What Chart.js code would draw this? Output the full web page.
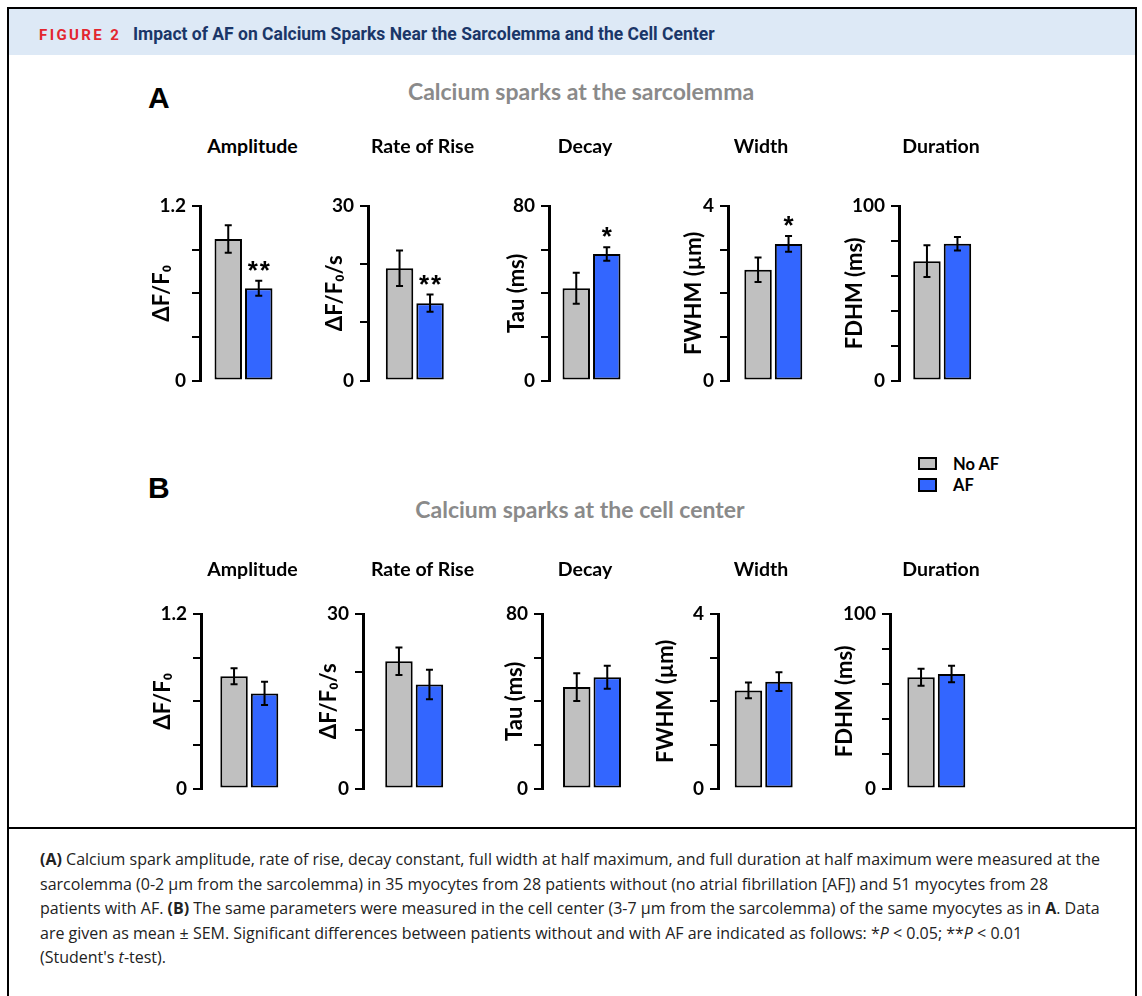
<!DOCTYPE html>
<html>
<head>
<meta charset="utf-8">
<script src="https://cdn.jsdelivr.net/npm/chart.js@4.4.1/dist/chart.umd.min.js"></script>
<style>
  body { margin: 0; width: 1142px; height: 996px; background: #fff; position: relative; overflow: hidden; font-family: Lato, sans-serif; }
  .frame { position: absolute; left: 7px; top: 7px; width: 1126px; height: 1000px; border: 2px solid #000; border-bottom: none; }
  .band { position: absolute; left: 9px; top: 9px; width: 1126px; height: 46px; background: #dde9f6; }
  .sep { position: absolute; left: 7px; top: 827px; width: 1130px; height: 2px; background: #000; }
  .lbl { position: absolute; white-space: nowrap; line-height: 1; }
  .fig { left: 39px; top: 26px; font: 700 15px Roboto, sans-serif; letter-spacing: 2.4px; color: #e3262f; }
  .figtitle { left: 133px; top: 24px; font: 700 17.5px Roboto, sans-serif; color: #1a3668; }
  .panel { font: 700 30px "Liberation Sans", Arial, sans-serif; color: #000; }
  .heading { font: 700 23px Lato, sans-serif; color: #8a8a8a; transform: translateX(-50%); }
  .ctitle { font: 700 19.5px Lato, sans-serif; color: #000; transform: translateX(-50%); }
  .legtext { font: 700 16.5px Lato, sans-serif; color: #000; }
  .swatch { position: absolute; box-sizing: border-box; border: 2px solid #000; width: 19px; }
  .caption { position: absolute; left: 40px; top: 847px; font: 400 16px "Open Sans", sans-serif; line-height: 24.5px; color: #222; white-space: nowrap; }
  canvas { position: absolute; }
</style>
</head>
<body>
<div class="band"></div>
<div class="frame"></div>
<div class="sep"></div>

<div class="lbl fig">FIGURE 2</div>
<div class="lbl figtitle">Impact of AF on Calcium Sparks Near the Sarcolemma and the Cell Center</div>

<div class="lbl panel" style="left:148px; top:81px;">A</div>
<div class="lbl heading" style="left:581px; top:77px;">Calcium sparks at the sarcolemma</div>
<div class="lbl panel" style="left:148px; top:471px;">B</div>
<div class="lbl heading" style="left:580px; top:495px;">Calcium sparks at the cell center</div>

<div class="swatch" style="left:918px; top:457px; height:13px; background:#c0c0c0;"></div>
<div class="swatch" style="left:918px; top:478px; height:14px; background:#3366ff;"></div>
<div class="lbl legtext" style="left:953px; top:454px;">No AF</div>
<div class="lbl legtext" style="left:953px; top:475px;">AF</div>

<div id="charts"></div>

<div class="caption">
<b>(A)</b> Calcium spark amplitude, rate of rise, decay constant, full width at half maximum, and full duration at half maximum were measured at the<br>
sarcolemma (0-2 μm from the sarcolemma) in 35 myocytes from 28 patients without (no atrial fibrillation [AF]) and 51 myocytes from 28<br>
patients with AF. <b>(B)</b> The same parameters were measured in the cell center (3-7 μm from the sarcolemma) of the same myocytes as in <b>A</b>. Data<br>
are given as mean ± SEM. Significant differences between patients without and with AF are indicated as follows: *<i>P</i> &lt; 0.05; **<i>P</i> &lt; 0.01<br>
(Student's <i>t</i>-test).
</div>

<script>
// groups and measured parameters
const groups = ['No AF', 'AF'];
const params = ['Amplitude', 'Rate of Rise', 'Decay', 'Width', 'Duration'];
const yTitles = ['ΔF/F₀', 'ΔF/F₀/s', 'Tau (ms)', 'FWHM (µm)', 'FDHM (ms)'];
const yMax = [1.2, 30, 80, 4, 100];
const yStep = [0.3, 10, 20, 1, 20];

// A: sparks at the sarcolemma (mean, SEM)
const sarcNoAF = [0.973, 19.3, 42.3, 2.54, 68.4];
const sarcNoAFSem = [0.094, 3.06, 7.06, 0.28, 9.1];
const sarcAF = [0.635, 13.3, 58.0, 3.13, 78.4];
const sarcAFSem = [0.051, 1.48, 3.1, 0.18, 3.85];
const sarcSig = ['**', '**', '*', '*', ''];

// B: sparks at the cell center (mean, SEM)
const centNoAF = [0.772, 21.9, 46.5, 2.25, 63.8];
const centNoAFSem = [0.055, 2.36, 6.4, 0.18, 4.9];
const centAF = [0.654, 17.9, 51.0, 2.45, 65.6];
const centAFSem = [0.08, 2.53, 5.3, 0.215, 4.7];
const centSig = ['', '', '', '', ''];

// layout of the small panels
const axisXA = [200, 368, 549, 728, 899];
const axisXB = [201, 363, 542, 718, 890];
const groupOffA = [43.5, 46.8, 42.5, 45.3, 43.2];
const groupOffB = [48.3, 51.2, 50, 45.7, 46.3];
const titleGapA = [38, 33, 32.5, 34, 44];
const titleGapB = [38, 34, 27, 52, 45.5];
const titleX = [252.5, 422.5, 585, 761, 941];
const plotTopA = 205.5, plotTopB = 613.5, plotH = 176.5;
const titleTopA = 134, titleTopB = 557;

const GRAY = '#c0c0c0', BLUE = '#3366ff';
const Y_W = 80, PAD_TOP = 40, PAD_BOT = 16, CANVAS_W = 200;
const Y_TITLE_SIZE = 22;

const errorBars = {
  id: 'errorBars',
  afterDatasetsDraw(chart) {
    const { ctx } = chart;
    const y = chart.scales.y;
    ctx.save();
    ctx.strokeStyle = '#000';
    ctx.fillStyle = '#000';
    ctx.lineWidth = 2;
    chart.data.datasets.forEach((ds, i) => {
      const bar = chart.getDatasetMeta(i).data[0];
      const v = ds.data[0];
      const yt = y.getPixelForValue(v + ds.sem);
      const yb = y.getPixelForValue(v - ds.sem);
      ctx.beginPath();
      ctx.moveTo(bar.x, yt); ctx.lineTo(bar.x, yb);
      ctx.moveTo(bar.x - 3.5, yt); ctx.lineTo(bar.x + 3.5, yt);
      ctx.moveTo(bar.x - 3.5, yb); ctx.lineTo(bar.x + 3.5, yb);
      ctx.stroke();
      if (ds.sig) {
        ctx.font = 'bold 26px "Liberation Sans", Arial, sans-serif';
        ctx.textAlign = 'center';
        ctx.textBaseline = 'alphabetic';
        const n = ds.sig.length;
        for (let k = 0; k < n; k++) {
          ctx.fillText('*', bar.x + (k - (n - 1) / 2) * 12, yt - 2);
        }
      }
    });
    ctx.restore();
  }
};

const host = document.getElementById('charts');

function addTitle(text, x, top) {
  const d = document.createElement('div');
  d.className = 'lbl ctitle';
  d.style.left = x + 'px';
  d.style.top = top + 'px';
  d.textContent = text;
  document.body.appendChild(d);
}

function makeChart(i, noAF, noAFSem, af, afSem, sig, axisX, plotTop, groupOff, titleGap) {
  const W = 2 * groupOff;
  const canvas = document.createElement('canvas');
  canvas.width = CANVAS_W;
  canvas.height = PAD_TOP + plotH + PAD_BOT;
  canvas.style.left = Math.round(axisX - Y_W) + 'px';
  canvas.style.top = Math.round(plotTop - PAD_TOP) + 'px';
  host.appendChild(canvas);

  const catPct = 61 / W;

  new Chart(canvas, {
    type: 'bar',
    data: {
      labels: [params[i]],
      datasets: [
        { label: groups[0], data: [noAF[i]], sem: noAFSem[i], sig: '',
          backgroundColor: GRAY, borderColor: '#000', borderWidth: 2, borderSkipped: false,
          categoryPercentage: catPct, barPercentage: 0.9 },
        { label: groups[1], data: [af[i]], sem: afSem[i], sig: sig[i],
          backgroundColor: BLUE, borderColor: '#000', borderWidth: 2, borderSkipped: false,
          categoryPercentage: catPct, barPercentage: 0.9 }
      ]
    },
    options: {
      responsive: false,
      animation: false,
      events: [],
      layout: { padding: { left: 0, top: PAD_TOP, right: CANVAS_W - Y_W - W, bottom: PAD_BOT } },
      plugins: { legend: { display: false }, tooltip: { enabled: false } },
      scales: {
        x: { display: false },
        y: {
          min: 0,
          max: yMax[i],
          afterFit: (s) => { s.width = Y_W; },
          border: { display: true, color: '#000', width: 3 },
          grid: { drawOnChartArea: false, drawTicks: true, tickLength: 8, color: '#000', lineWidth: 2 },
          ticks: {
            stepSize: yStep[i],
            autoSkip: false,
            padding: 6,
            color: '#000',
            font: { family: 'Lato', weight: 'bold', size: 19 },
            callback: (v, idx, ticks) => (idx === 0 || idx === ticks.length - 1) ? String(v) : ''
          },
          title: {
            display: true,
            text: yTitles[i],
            color: '#000',
            font: { family: 'Lato', weight: 'bold', size: Y_TITLE_SIZE },
            padding: { top: Y_W - titleGap - Y_TITLE_SIZE * 1.2 / 2, bottom: 0 }
          }
        }
      }
    },
    plugins: [errorBars]
  });
}

for (let i = 0; i < params.length; i++) {
  addTitle(params[i], titleX[i], titleTopA);
  addTitle(params[i], titleX[i], titleTopB);
  makeChart(i, sarcNoAF, sarcNoAFSem, sarcAF, sarcAFSem, sarcSig, axisXA[i], plotTopA, groupOffA[i], titleGapA[i]);
  makeChart(i, centNoAF, centNoAFSem, centAF, centAFSem, centSig, axisXB[i], plotTopB, groupOffB[i], titleGapB[i]);
}
</script>
</body>
</html>
